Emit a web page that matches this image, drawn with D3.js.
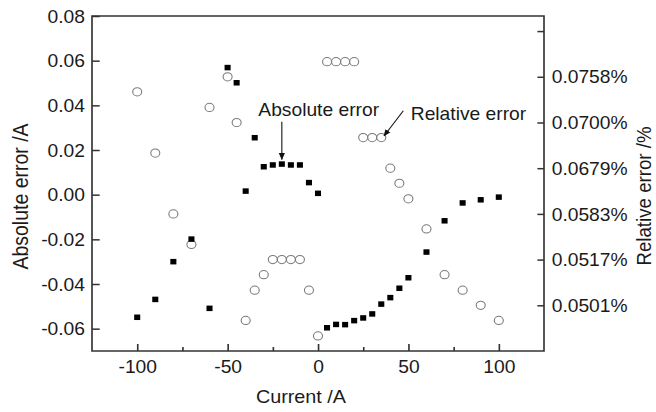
<!DOCTYPE html>
<html>
<head>
<meta charset="utf-8">
<script src="https://cdn.jsdelivr.net/npm/d3@7"></script>
<style>
  html, body { margin: 0; padding: 0; background: #fff; }
  svg { display: block; }
  text { font-family: "Liberation Sans", Arial, sans-serif; fill: #1a1a1a; }
</style>
</head>
<body>
<svg id="chart" width="656" height="412"></svg>
<script>
// ---- data ----
const currents = [-100, -90, -80, -70, -60, -50, -45, -40, -35, -30, -25, -20, -15, -10, -5, 0,
                  5, 10, 15, 20, 25, 30, 35, 40, 45, 50, 60, 70, 80, 90, 100];
const absoluteError = [-0.0549, -0.0469, -0.0300, -0.0199, -0.0509, 0.0569, 0.0501, 0.0016, 0.0255,
                       0.0125, 0.0133, 0.0137, 0.0133, 0.0133, 0.0054, 0.0006,
                       -0.0596, -0.0581, -0.0582, -0.0564, -0.0552, -0.0534, -0.0490, -0.0461,
                       -0.0419, -0.0372, -0.0257, -0.0117, -0.0037, -0.0023, -0.0011];
// relative error, in right-axis level units (tick k sits at level k)
const relativeError = [5.67, 4.33, 3.00, 2.33, 5.33, 6.00, 5.00, 0.67, 1.33, 1.67, 2.00, 2.00, 2.00, 2.00,
                       1.33, 0.33, 6.33, 6.33, 6.33, 6.33, 4.67, 4.67, 4.67, 4.00, 3.67, 3.33, 2.67,
                       1.67, 1.33, 1.00, 0.67];
const xTicks = [-100, -50, 0, 50, 100];
const xMinorTicks = [-75, -25, 25, 75];
const yLeftTicks = [-0.06, -0.04, -0.02, 0.00, 0.02, 0.04, 0.06, 0.08];
const yRightLevels = [1, 2, 3, 4, 5, 6, 7];
const yRightLabels = ["0.0501%", "0.0517%", "0.0583%", "0.0679%", "0.0700%", "0.0758%", ""];

// ---- layout ----
const sx = 1.1; // reference is slightly stretched horizontally
const L = 92, R = 544, T = 16, B = 351;
const svg = d3.select("#chart");
const g = svg.append("g").attr("transform", `scale(${sx},1)`);

const x = d3.scaleLinear().domain([-125, 125]).range([L / sx, R / sx]);
const yL = d3.scaleLinear().domain([-0.07, 0.08]).range([B, T]);
const yR = d3.scaleLinear().domain([0, 7.33]).range([B, T]);

const axisColor = "#333";
const fs = 17.5;

// x axis major
const xAxis = g.append("g").attr("transform", `translate(0,${B})`)
  .call(d3.axisBottom(x).tickValues(xTicks).tickSize(-7).tickSizeOuter(0).tickPadding(9.6)
    .tickFormat(d => String(d)));
// x axis minor
const xMinor = g.append("g").attr("transform", `translate(0,${B})`)
  .call(d3.axisBottom(x).tickValues(xMinorTicks).tickSize(-4).tickSizeOuter(0).tickFormat(""));
// left axis
const yAxisL = g.append("g").attr("transform", `translate(${L / sx},0)`)
  .call(d3.axisLeft(yL).tickValues(yLeftTicks).tickSize(-7).tickSizeOuter(0).tickPadding(6.4)
    .tickFormat(d => d3.format(".2f")(d).replace("\u2212", "-")));
// right axis
const yAxisR = g.append("g").attr("transform", `translate(${R / sx},0)`)
  .call(d3.axisRight(yR).tickValues(yRightLevels).tickSize(-6).tickSizeOuter(0).tickPadding(7)
    .tickFormat((d, i) => yRightLabels[i]));

[xAxis, xMinor, yAxisL, yAxisR].forEach(a => {
  a.select(".domain").remove();
  a.selectAll(".tick line").attr("stroke", axisColor).attr("stroke-width", 1.5);
  a.selectAll(".tick text").attr("font-size", fs).attr("font-family", null).attr("fill", "#1a1a1a");
});
yAxisL.selectAll(".tick text").attr("dy", "0.35em");
yAxisR.selectAll(".tick text").attr("dy", "0.35em");

// frame
g.append("rect")
  .attr("x", L / sx).attr("y", T)
  .attr("width", (R - L) / sx).attr("height", B - T)
  .attr("fill", "none").attr("stroke", axisColor).attr("stroke-width", 1.5);

// relative error circles
g.append("g").selectAll("circle")
  .data(currents.map((c, i) => ({ c, v: relativeError[i] })))
  .join("circle")
  .attr("cx", d => x(d.c)).attr("cy", d => yR(d.v))
  .attr("r", 4.1)
  .attr("fill", "#fff").attr("stroke", "#7a7a7a").attr("stroke-width", 1);

// absolute error squares
const sq = 5.5;
g.append("g").selectAll("rect")
  .data(currents.map((c, i) => ({ c, v: absoluteError[i] })))
  .join("rect")
  .attr("x", d => x(d.c) - sq / 2).attr("y", d => yL(d.v) - sq / 2)
  .attr("width", sq).attr("height", sq)
  .attr("fill", "#000");

// arrow marker
const defs = svg.append("defs");
defs.append("marker").attr("id", "ah").attr("viewBox", "0 0 10 10")
  .attr("refX", 9).attr("refY", 5).attr("markerWidth", 7).attr("markerHeight", 7)
  .attr("markerUnits", "userSpaceOnUse").attr("orient", "auto")
  .append("path").attr("d", "M0,1 L10,5 L0,9 Z").attr("fill", "#111");

// annotations
g.append("text").attr("x", x(-33)).attr("y", yL(0.0352)).attr("font-size", fs).text("Absolute error");
g.append("line")
  .attr("x1", x(-20)).attr("y1", yL(0.0327)).attr("x2", x(-20)).attr("y2", yL(0.0158))
  .attr("stroke", "#111").attr("stroke-width", 1).attr("marker-end", "url(#ah)");
g.append("text").attr("x", x(51.3)).attr("y", yL(0.0334)).attr("font-size", fs).text("Relative error");
g.append("line")
  .attr("x1", x(47.2)).attr("y1", yL(0.0376)).attr("x2", x(36.5)).attr("y2", yL(0.0263))
  .attr("stroke", "#111").attr("stroke-width", 1).attr("marker-end", "url(#ah)");

// axis titles
g.append("text").attr("x", 301 / sx).attr("y", 403).attr("text-anchor", "middle")
  .attr("font-size", 18).text("Current /A");
g.append("text").attr("transform", `translate(${28 / sx},196.5) rotate(-90)`)
  .attr("text-anchor", "middle").attr("font-size", 19.5).text("Absolute error /A");
g.append("text").attr("transform", `translate(${651 / sx},196) rotate(-90)`)
  .attr("text-anchor", "middle").attr("font-size", 18.7).text("Relative error /%");
</script>
</body>
</html>
